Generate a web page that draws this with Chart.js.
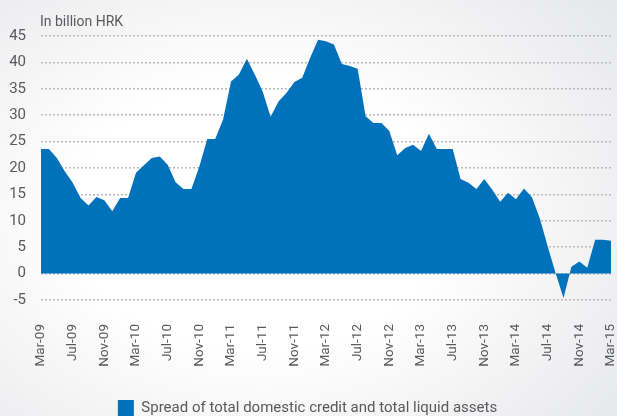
<!DOCTYPE html>
<html>
<head>
<meta charset="utf-8">
<script src="https://cdn.jsdelivr.net/npm/chart.js@4"></script>
<style>
  html, body { margin: 0; padding: 0; }
  body {
    width: 617px; height: 416px; overflow: hidden;
    background: radial-gradient(ellipse 75% 80% at 42% 52%, #ffffff 40%, #e6e7e9 100%);
  }
</style>
</head>
<body>
<canvas id="graph" width="617" height="416"></canvas>
<script>
// monthly spread, billion HRK, Mar-09 .. Mar-15
const monthNames = ['Jan','Feb','Mar','Apr','May','Jun','Jul','Aug','Sep','Oct','Nov','Dec']
const spread = [
  23.6, 23.6, 21.9, 19.4, 17.2, 14.3, 12.9, 14.5, 13.9, 11.8, 14.3, 14.3,
  19.1, 20.5, 21.9, 22.2, 20.6, 17.3, 16.0, 16.0, 20.3, 25.5, 25.5, 29.2,
  36.4, 37.7, 40.7, 37.7, 34.5, 29.7, 32.6, 34.2, 36.3, 37.1, 40.9, 44.3,
  44.0, 43.4, 39.7, 39.3, 38.8, 29.8, 28.5, 28.5, 27.0, 22.4, 23.8, 24.4,
  23.2, 26.5, 23.6, 23.6, 23.6, 17.9, 17.2, 16.0, 17.9, 15.9, 13.6, 15.3,
  14.1, 16.1, 14.5, 10.5, 5.2, 0.1, -4.6, 1.3, 2.3, 1.1, 6.4, 6.4, 6.2
]
const yTicks = [-5, 0, 5, 10, 15, 20, 25, 30, 35, 40, 45]

// labels like "Mar-09"
let months = []
for (let i = 0; i < spread.length; i++) {
  let m = (2 + i) % 12
  let y = 9 + Math.floor((2 + i) / 12)
  months.push(monthNames[m] + '-' + String(y).padStart(2, '0'))
}

const fontFamily = 'Roboto, sans-serif'
const textColor = '#58595b'

// unit caption above the plot, aligned with the plot's left edge
const unitCaption = {
  id: 'unitCaption',
  afterDraw(chart) {
    let c = chart.ctx
    c.save()
    c.font = '14px ' + fontFamily
    c.fillStyle = textColor
    c.textBaseline = 'alphabetic'
    c.fillText('In billion HRK', chart.chartArea.left - 1, 26)
    c.restore()
  }
}

let ctx = document.getElementById('graph').getContext('2d')
new Chart(ctx, {
  type: 'line',
  data: {
    labels: months,
    datasets: [{
      label: 'Spread of total domestic credit and total liquid assets',
      data: spread,
      backgroundColor: '#0071bb',
      borderColor: '#0071bb',
      borderWidth: 0,
      pointRadius: 0,
      tension: 0,
      fill: 'origin'
    }]
  },
  options: {
    responsive: false,
    animation: false,
    // legend row runs off the bottom edge a little
    layout: { padding: { top: 36, right: 6, left: 4, bottom: -10 } },
    plugins: {
      tooltip: { enabled: false },
      legend: {
        position: 'bottom',
        labels: {
          boxWidth: 16,
          boxHeight: 16,
          padding: 0,
          color: textColor,
          font: { family: fontFamily, size: 15 }
        }
      }
    },
    scales: {
      x: {
        offset: false,
        grid: { display: false },
        border: { display: false },
        afterFit: (scale) => {
          scale.height = 100
          scale.paddingLeft = 0
          scale.paddingRight = 0
        },
        ticks: {
          autoSkip: false,
          maxRotation: 90,
          minRotation: 90,
          padding: 16,
          color: textColor,
          font: { family: fontFamily, size: 13.5 },
          callback: function (value, index) {
            return index % 4 === 0 ? months[index] : null
          }
        }
      },
      y: {
        min: -5,
        max: 45,
        afterBuildTicks: (axis) => { axis.ticks = yTicks.map(v => ({ value: v })) },
        afterFit: (scale) => { scale.width = 37 },
        border: { display: false, dash: [2, 2] },
        grid: {
          color: '#b9babc',
          lineWidth: 1.5,
          drawTicks: false
        },
        ticks: {
          padding: 15,
          color: textColor,
          font: { family: fontFamily, size: 15 }
        }
      }
    }
  },
  plugins: [unitCaption]
})
</script>
</body>
</html>
